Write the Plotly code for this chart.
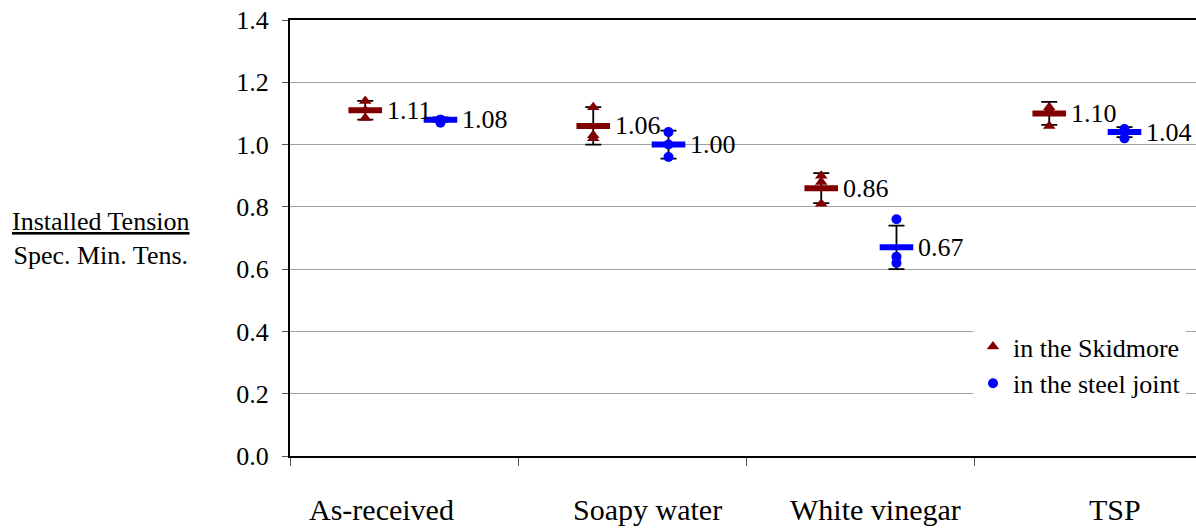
import numpy as np
import plotly.graph_objects as go

# ---- data -------------------------------------------------------------
categories = ["As-received", "Soapy water", "White vinegar", "TSP"]

skidmore_mean = [1.11, 1.06, 0.86, 1.10]
skidmore_err = [0.03, 0.06, 0.048, 0.037]
skidmore_points = [
    [1.14, 1.11, 1.085],
    [1.12, 1.03, 1.02],
    [0.90, 0.88, 0.81],
    [1.12, 1.11, 1.06],
]

steel_mean = [1.08, 1.00, 0.67, 1.04]
steel_err = [0.007, 0.045, 0.07, 0.016]
steel_points = [
    [1.08, 1.08, 1.07],
    [1.04, 1.00, 0.96],
    [0.76, 0.64, 0.62],
    [1.05, 1.04, 1.02],
]

# ---- style ------------------------------------------------------------
FONT = "Liberation Serif"
RED = "#800000"
BLUE = "#0000FF"
W, H = 1196, 529
L, R, T, B = 290, 0, 20, 73
plot_w = W - L - R
plot_h = H - T - B
cat_px = 228                      # width of one category slot
x_max = plot_w / cat_px
label_centers = [0.40, 1.566, 2.566, 3.62]

idx = np.arange(len(categories))
x_skid = idx + 0.33
x_steel = idx + 0.66

fig = go.Figure()


def add_series(xc, means, errs, pts, color, symbol, msize, name):
    # error bars
    fig.add_trace(go.Scatter(
        x=xc, y=means, mode="markers",
        marker=dict(size=1, color="rgba(0,0,0,0)"),
        error_y=dict(type="data", array=errs, visible=True,
                     color="black", thickness=1.8, width=8),
        showlegend=False, hoverinfo="skip"))
    # individual readings
    px, py = [], []
    for x, vals in zip(xc, pts):
        px += [x] * len(vals)
        py += list(vals)
    fig.add_trace(go.Scatter(
        x=px, y=py, mode="markers", name=name,
        marker=dict(symbol=symbol, size=msize, color=color,
                    line=dict(width=0))))
    # mean dash
    fig.add_trace(go.Scatter(
        x=xc, y=means, mode="markers",
        marker=dict(symbol="line-ew", size=24, color=color,
                    line=dict(width=6, color=color)),
        showlegend=False, hoverinfo="skip"))
    # value labels
    for x, m in zip(xc, means):
        fig.add_annotation(x=x, y=m, xref="x", yref="y", text=f"{m:.2f}",
                           showarrow=False, xanchor="left", yanchor="middle",
                           xshift=20, font=dict(family=FONT, size=26, color="black"))


add_series(x_skid, skidmore_mean, skidmore_err, skidmore_points,
           RED, "triangle-up", 11, "in the Skidmore")
add_series(x_steel, steel_mean, steel_err, steel_points,
           BLUE, "circle", 10, "in the steel joint")

# category labels below the axis
for c, xc in zip(categories, label_centers):
    fig.add_annotation(x=xc, y=0, xref="x", yref="paper", yshift=-53,
                       text=c, showarrow=False, xanchor="center", yanchor="middle",
                       font=dict(family=FONT, size=30, color="black"))

# y-axis title written as a fraction
fig.add_annotation(x=-(L - 101) / plot_w, y=0.5, xref="paper", yref="paper",
                   text="<u>Installed Tension</u><br>Spec. Min. Tens.",
                   showarrow=False, xanchor="center", yanchor="middle",
                   font=dict(family=FONT, size=26, color="black"))

fig.update_layout(
    width=W, height=H,
    margin=dict(l=L, r=R, t=T, b=B, pad=0),
    paper_bgcolor="white", plot_bgcolor="white",
    font=dict(family=FONT, size=26, color="black"),
    showlegend=True,
    legend=dict(x=(973 - L) / plot_w, y=(456 - 323) / plot_h,
                xanchor="left", yanchor="top",
                bgcolor="white", borderwidth=0,
                font=dict(family=FONT, size=26, color="black")),
    xaxis=dict(range=[0, x_max], tickvals=[0, 1, 2, 3], ticktext=["", "", "", ""],
               showgrid=False, zeroline=False, showline=True, linecolor="black",
               linewidth=2, mirror=True, ticks="outside", ticklen=8,
               tickcolor="#555555", tickwidth=1),
    yaxis=dict(range=[0, 1.4], dtick=0.2, tickformat=".1f",
               showgrid=True, gridcolor="#a0a0a0", gridwidth=1,
               zeroline=False, showline=True, linecolor="black", linewidth=2,
               ticks="outside", ticklen=6, tickcolor="#555555", tickwidth=1,
               ticklabelstandoff=8,
               tickfont=dict(family=FONT, size=26, color="black")),
)

fig.write_html("out.html")
